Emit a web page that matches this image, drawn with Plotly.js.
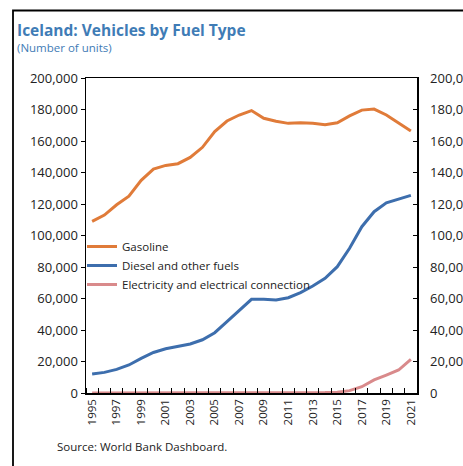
<!DOCTYPE html>
<html>
<head>
<meta charset="utf-8">
<script src="https://cdn.plot.ly/plotly-3.0.1.min.js"></script>
<style>html,body{margin:0;padding:0;background:#fff;}#chart{width:463px;height:466px;}</style>
</head>
<body>
<div id="chart"></div>
<script>
var years = [1995,1996,1997,1998,1999,2000,2001,2002,2003,2004,2005,2006,2007,2008,2009,2010,2011,2012,2013,2014,2015,2016,2017,2018,2019,2020,2021];
var gasoline = [109000,113000,119500,125000,135000,142200,144500,145600,149600,156000,166000,172700,176500,179300,174400,172500,171200,171600,171200,170400,171600,175900,179600,180300,176500,171200,166300];
var diesel = [12000,13100,15000,17800,22000,25700,28100,29400,31100,33800,38300,45300,52700,59500,59500,59000,60500,63700,67900,72800,80200,91900,105600,115100,120800,123400,125500];
var electricity = [0,0,0,0,0,0,0,0,0,0,0,0,0,0,0,0,0,100,200,300,500,1500,4000,8300,11400,14600,21400];
var seriesNames = ['Gasoline','Diesel and other fuels','Electricity and electrical connection'];
var yearLabels = [1995,1997,1999,2001,2003,2005,2007,2009,2011,2013,2015,2017,2019,2021];
var colors = ['#E07B39','#3D6EAD','#D98A8B'];

var W = 463, H = 466;
var L = 86, R = 417, T = 78, B = 393;
function px(x){ return (x - L)/(R - L); }
function py(y){ return (B - y)/(B - T); }

var font = 'Open Sans, Noto Sans, sans-serif';
var traces = [gasoline, diesel, electricity].map(function(v,i){
  return {x: years, y: v, type:'scatter', mode:'lines', name: seriesNames[i],
          line:{color: colors[i], width:3}};
});
traces.push({x: years, y: gasoline, yaxis:'y2', type:'scatter', mode:'lines', showlegend:false, hoverinfo:'skip', line:{width:0, color:'rgba(0,0,0,0)'}});

var layout = {
  width: W, height: H,
  margin: {l: L, r: W - R, t: T, b: H - B, pad: 0},
  paper_bgcolor: '#fff', plot_bgcolor: '#fff',
  font: {family: font, color: '#222', size: 12},
  showlegend: true,
  legend: {x: px(82), y: py(232), xanchor:'left', yanchor:'top', bgcolor:'rgba(0,0,0,0)', font:{size:11.5, family: font, color:'#222'}, tracegroupgap:0, itemwidth:30},
  xaxis: {
    range: [1994.5, 2021.5], showgrid:false, zeroline:false,
    showline:true, linecolor:'#000', linewidth:1.5, mirror:true,
    tickmode:'array', tickvals: yearLabels, ticktext: yearLabels.map(String),
    ticks:'', tickangle:-90, tickfont:{size:11.5, color:'#222'},
    minor:{tickmode:'linear', tick0:1994.5, dtick:1, ticks:'inside', ticklen:5, tickcolor:'#000', tickwidth:1, showgrid:false}
  },
  yaxis: {
    range:[0,200000], dtick:20000, tick0:0, showgrid:false, zeroline:false,
    showline:true, linecolor:'#000', linewidth:1.5,
    ticks:'outside', ticklen:4, tickcolor:'#000', tickformat:',d',
    tickfont:{size:13, color:'#222'}
  },
  yaxis2: {
    range:[0,200000], dtick:20000, tick0:0, overlaying:'y', side:'right', showgrid:false, zeroline:false,
    showline:true, linecolor:'#000', linewidth:1.5,
    ticks:'inside', ticklen:4, tickcolor:'#000', tickformat:',d',
    tickfont:{size:13, color:'#222'}, ticklabelstandoff:9
  },
  shapes: [
    {type:'rect', xref:'paper', yref:'paper', x0: px(13), x1: px(520), y0: py(520), y1: py(10.5), line:{color:'#000', width:1.8}, fillcolor:'rgba(0,0,0,0)', layer:'above'}
  ],
  annotations: [
    {xref:'paper', yref:'paper', x: px(16), y: py(29.5), xanchor:'left', yanchor:'middle', showarrow:false, borderpad:0,
     text:'<b>Iceland: Vehicles by Fuel Type</b>', font:{size:15.5, color:'#3F7CB6', family: font}},
    {xref:'paper', yref:'paper', x: px(16), y: py(47.5), xanchor:'left', yanchor:'middle', showarrow:false, borderpad:0,
     text:'(Number of units)', font:{size:11.5, color:'#3F7CB6', family: font}},
    {xref:'paper', yref:'paper', x: px(55), y: py(446), xanchor:'left', yanchor:'middle', showarrow:false,
     text:'Source: World Bank Dashboard.', font:{size:11.5, color:'#222', family: font}}
  ]
};

Plotly.newPlot('chart', traces, layout, {staticPlot:true, displayModeBar:false});
</script>
</body>
</html>
